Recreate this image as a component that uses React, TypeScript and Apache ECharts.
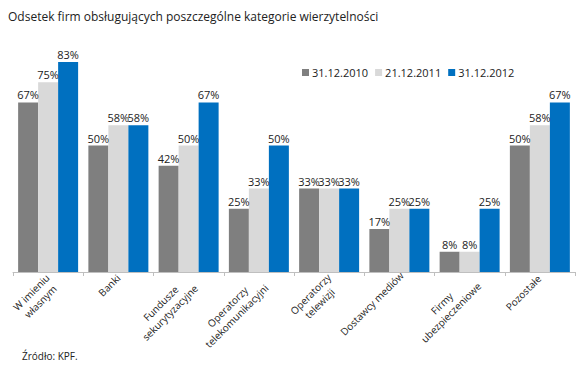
import React, { useEffect, useRef } from "react";
import * as echarts from "echarts";

const categories = [
  "W imieniu\nwłasnym",
  "Banki",
  "Fundusze\nsekurytyzacyjne",
  "Operatorzy\ntelekomunikacyjni",
  "Operatorzy\ntelewizji",
  "Dostawcy mediów",
  "Firmy\nubezpieczeniowe",
  "Pozostałe",
];
const seriesNames = ["31.12.2010", "21.12.2011", "31.12.2012"];
const values2010 = [67, 50, 42, 25, 33, 17, 8, 50];
const values2011 = [75, 58, 50, 33, 33, 25, 8, 58];
const values2012 = [83, 58, 67, 50, 33, 25, 25, 67];
const colors = ["#7f7f7f", "#d9d9d9", "#0070c0"];

const FONT = "'Open Sans', sans-serif";

export default function App() {
  const ref = useRef<HTMLDivElement>(null);
  useEffect(() => {
    if (!ref.current) return;
    const chart = echarts.init(ref.current, undefined, { renderer: "svg" });
    const data = [values2010, values2011, values2012];
    const rich: Record<string, any> = {
      sp: { fontFamily: FONT, fontSize: 10, lineHeight: 12 },
    };
    categories.forEach((c, i) => {
      const maxLen = Math.max(...c.split("\n").map((s) => s.length));
      rich["c" + i] = {
        width: Math.round(maxLen * 5.2),
        align: "center",
        fontFamily: FONT,
        fontSize: 10,
        color: "#222",
        lineHeight: 13,
      };
    });
    chart.setOption({
      animation: false,
      title: {
        text: "Odsetek firm obsługujących poszczególne kategorie wierzytelności",
        left: 3,
        top: 5,
        textStyle: { fontFamily: FONT, fontSize: 12, fontWeight: "normal", color: "#222" },
      },
      legend: {
        data: seriesNames,
        left: 297,
        top: 62,
        itemWidth: 7,
        itemHeight: 7,
        itemGap: 7,
        icon: "rect",
        textStyle: { fontFamily: FONT, fontSize: 11, color: "#222", padding: [0, 0, 0, -2] },
      },
      grid: { left: 13, right: 10, top: 19, height: 253, containLabel: false },
      xAxis: {
        type: "category",
        data: categories,
        axisLine: { lineStyle: { color: "#bfbfbf" } },
        axisTick: { show: true, length: 4, lineStyle: { color: "#bfbfbf" } },
        axisLabel: {
          interval: 0,
          rotate: 45,
          margin: 4,
          formatter: (v: string, i: number) => {
            const lines = v.split("\n").map((s) => `{c${i}|${s}}`);
            if (lines.length > 1) lines.unshift("{sp| }");
            return lines.join("\n");
          },
          rich,
        },
      },
      yAxis: {
        type: "value",
        min: 0,
        max: 100,
        show: false,
        splitLine: { show: false },
      },
      series: data.map((d, i) => ({
        name: seriesNames[i],
        type: "bar",
        data: d,
        barGap: "0%",
        barCategoryGap: "14.6%",
        itemStyle: { color: colors[i] },
        label: {
          show: true,
          position: "top",
          distance: 2,
          formatter: "{c}%",
          fontFamily: FONT,
          fontSize: 11,
          color: "#222",
        },
      })),
      graphic: [
        {
          type: "text",
          left: 22,
          top: 351,
          style: { text: "Źródło: KPF.", font: `10px ${FONT}`, fill: "#222" },
        },
      ],
    });
    return () => chart.dispose();
  }, []);
  return (
    <div
      ref={ref}
      style={{ position: "absolute", left: 0, top: 0, width: 585, height: 370 }}
    />
  );
}
